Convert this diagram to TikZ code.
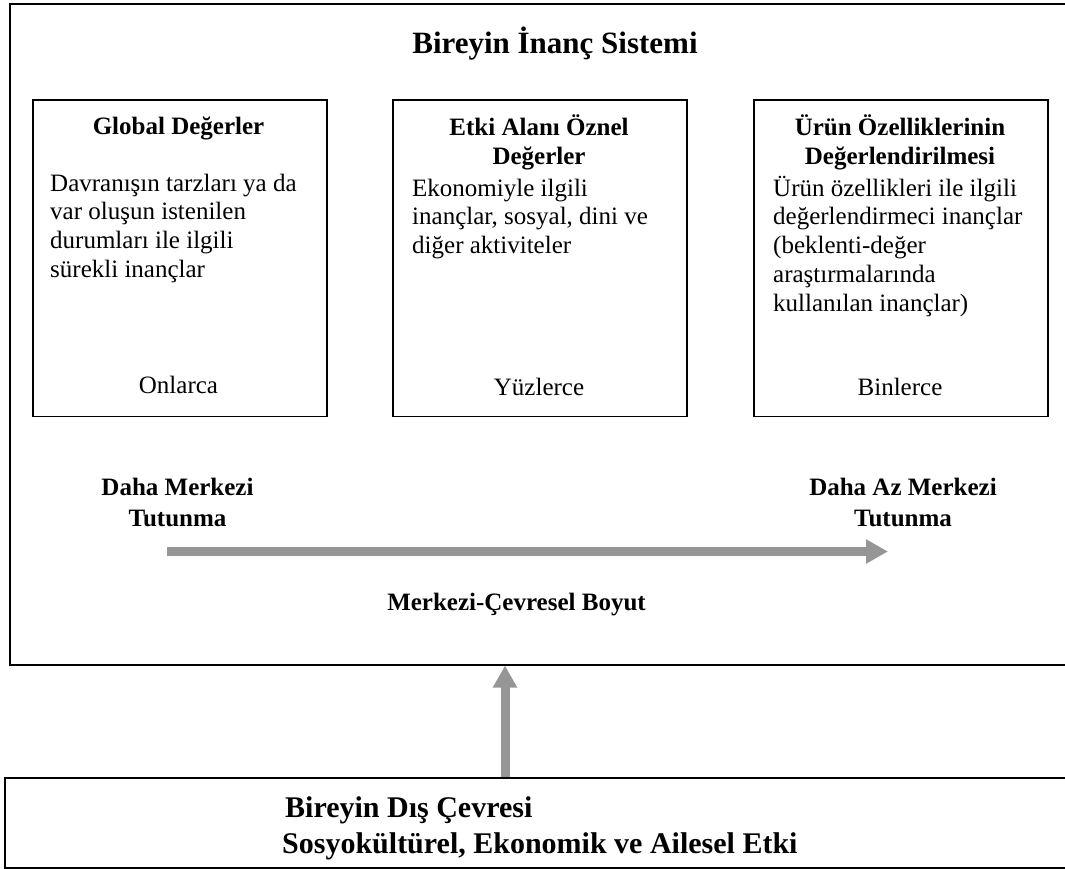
\documentclass[tikz,border=0pt]{standalone}
\usepackage{fontspec}
\setmainfont{Liberation Serif}
\usetikzlibrary{arrows.meta}
\definecolor{arrgray}{RGB}{150,150,150}
\newcommand{\tstr}{\rule{0pt}{22pt}}
\begin{document}
\begin{tikzpicture}[x=1pt,y=-1pt,
  framebox/.style={draw=black, line width=1.6pt, inner sep=0pt, anchor=north west},
  valbox/.style={draw=black, line width=1.5pt, inner sep=0pt, anchor=north west,
                 minimum width=294pt, minimum height=316pt},
  body/.style={font=\fontsize{25}{28.7}\selectfont, inner sep=0pt, align=left, anchor=north west},
  btitle/.style={font=\fontsize{25}{28.7}\selectfont\bfseries, inner sep=0pt, align=center, anchor=north},
  count/.style={font=\fontsize{25}{28.7}\selectfont, inner sep=0pt, anchor=base},
  dimlabel/.style={font=\fontsize{25}{31}\selectfont\bfseries, inner sep=0pt, align=center, anchor=north},
  bigtitle/.style={font=\fontsize{31}{36}\selectfont\bfseries, inner sep=0pt, anchor=base},
  envtext/.style={font=\fontsize{30}{36}\selectfont\bfseries, inner sep=0pt, anchor=base west},
  bigarrow/.style={draw=arrgray, line width=9pt, -{Triangle[length=22pt,width=23pt]}}
]
\useasboundingbox (0,0) rectangle (1065,869);
\clip (0,0) rectangle (1065,869);

% outer frame and bottom frame
\node[framebox, minimum width=1080pt, minimum height=661pt] (outer) at (9,3) {};
\node[framebox, minimum width=1085pt, minimum height=90pt] (env) at (4,777) {};

\node[bigtitle] (title) at (555,53.5) {Bireyin İnanç Sistemi};

% three value boxes
\node[valbox] (b1) at (32,99.5) {};
\node[valbox] (b2) at (392,99.5) {};
\node[valbox] (b3) at (753,99.5) {};

% box 1
\node[btitle] (t1) at (178.5,134.5-22) {\tstr Global Değerler};
\node[body] (d1) at (50,191-22) {\tstr Davranışın tarzları ya da\\var oluşun istenilen\\durumları ile ilgili\\sürekli inançlar};
\node[count] (c1) at (178.5,393) {Onlarca};

% box 2
\node[btitle] (t2) at (539,135.5-22) {\tstr Etki Alanı Öznel\\Değerler};
\node[body] (d2) at (412,196-22) {\tstr Ekonomiyle ilgili\\inançlar, sosyal, dini ve\\diğer aktiviteler};
\node[count] (c2) at (539,395) {Yüzlerce};

% box 3
\node[btitle] (t3) at (900,135.5-22) {\tstr Ürün Özelliklerinin\\Değerlendirilmesi};
\node[body] (d3) at (773,196-22) {\tstr Ürün özellikleri ile ilgili\\değerlendirmeci inançlar\\(beklenti-değer\\araştırmalarında\\kullanılan inançlar)};
\node[count] (c3) at (900,395) {Binlerce};

% central-peripheral dimension
\node[dimlabel] (l1) at (177.5,495-22) {\tstr Daha Merkezi\\Tutunma};
\node[dimlabel] (l2) at (903,495-22) {\tstr Daha Az Merkezi\\Tutunma};
\coordinate (hs) at (167,551.5);
\coordinate (he) at (888,551.5);
\draw[bigarrow] (hs) -- (he);
\node[dimlabel, anchor=base] (dim) at (516.5,610) {Merkezi-Çevresel Boyut};

% environment
\node[envtext] (e1) at (285,817) {Bireyin Dış Çevresi};
\node[envtext] (e2) at (282,853) {Sosyokültürel, Ekonomik ve Ailesel Etki};

\coordinate (va) at (505,720);
\draw[bigarrow] (env.north -| va) -- (outer.south -| va);
\end{tikzpicture}
\end{document}
